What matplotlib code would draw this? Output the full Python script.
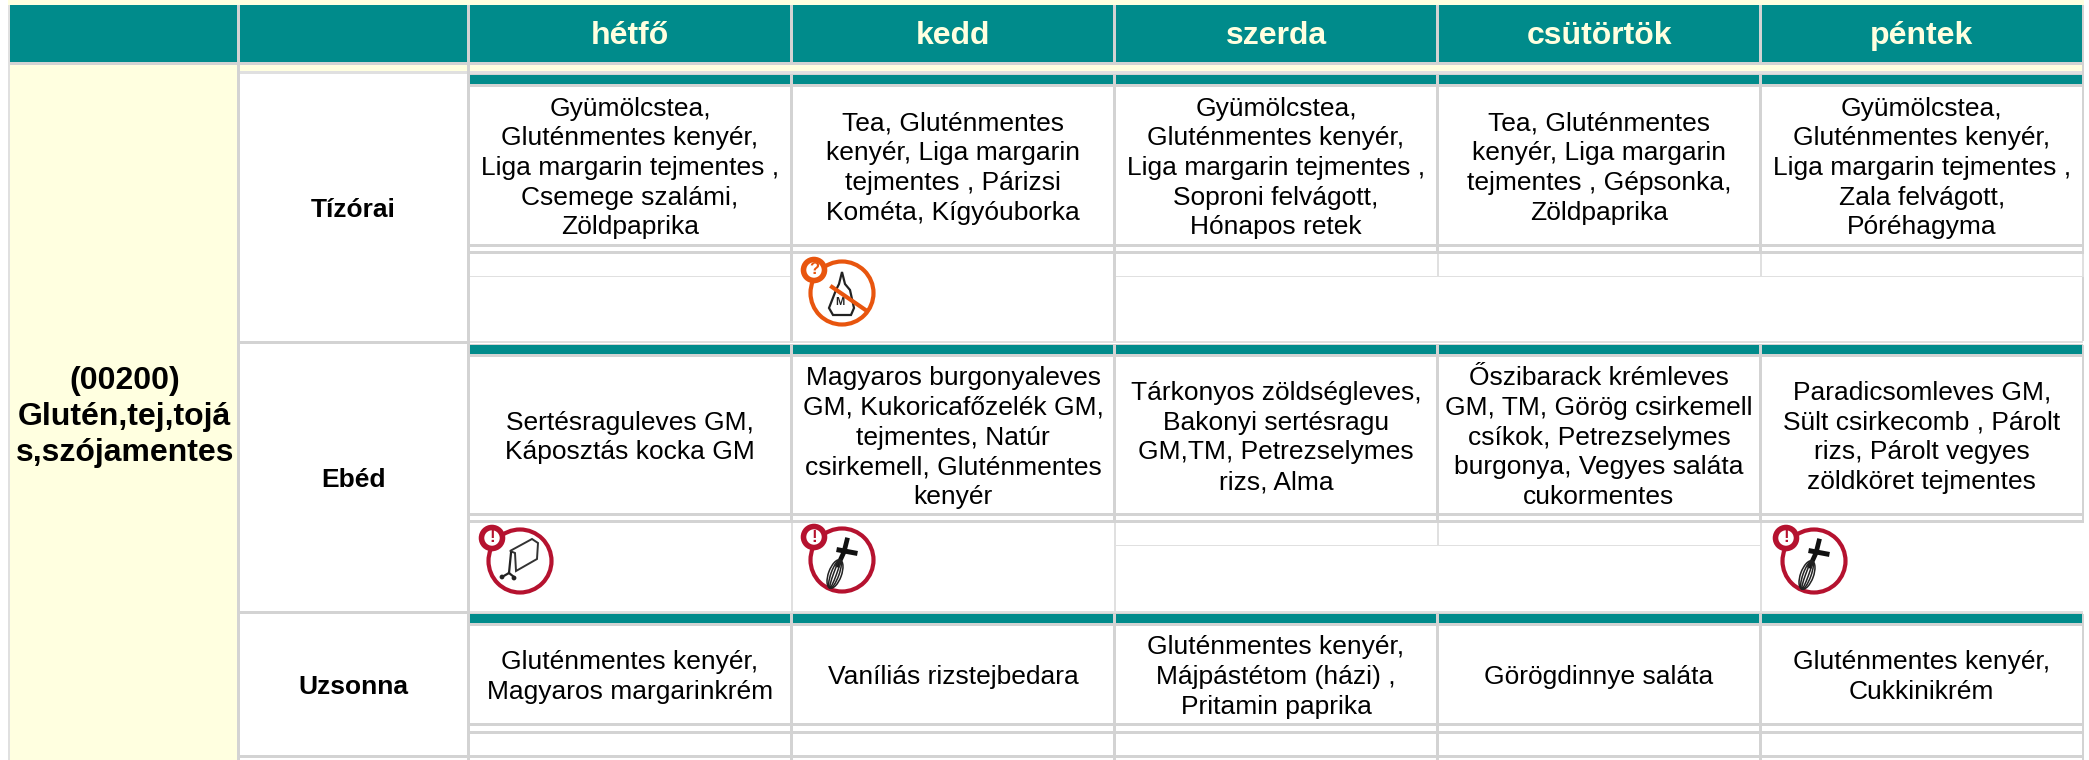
import matplotlib
matplotlib.use("Agg")
import matplotlib.pyplot as plt
from matplotlib.patches import Rectangle, Circle, Polygon, Ellipse

# ---- content ----
diet_label = "(00200)\nGlutén,tej,tojá\ns,szójamentes"
days = ["hétfő", "kedd", "szerda", "csütörtök", "péntek"]
meals = ["Tízórai", "Ebéd", "Uzsonna"]
tizorai = [
    "Gyümölcstea,\nGluténmentes kenyér,\nLiga margarin tejmentes ,\nCsemege szalámi,\nZöldpaprika",
    "Tea, Gluténmentes\nkenyér, Liga margarin\ntejmentes , Párizsi\nKométa, Kígyóuborka",
    "Gyümölcstea,\nGluténmentes kenyér,\nLiga margarin tejmentes ,\nSoproni felvágott,\nHónapos retek",
    "Tea, Gluténmentes\nkenyér, Liga margarin\ntejmentes , Gépsonka,\nZöldpaprika",
    "Gyümölcstea,\nGluténmentes kenyér,\nLiga margarin tejmentes ,\nZala felvágott,\nPóréhagyma",
]
ebed = [
    "Sertésraguleves GM,\nKáposztás kocka GM",
    "Magyaros burgonyaleves\nGM, Kukoricafőzelék GM,\ntejmentes, Natúr\ncsirkemell, Gluténmentes\nkenyér",
    "Tárkonyos zöldségleves,\nBakonyi sertésragu\nGM,TM, Petrezselymes\nrizs, Alma",
    "Őszibarack krémleves\nGM, TM, Görög csirkemell\ncsíkok, Petrezselymes\nburgonya, Vegyes saláta\ncukormentes",
    "Paradicsomleves GM,\nSült csirkecomb , Párolt\nrizs, Párolt vegyes\nzöldköret tejmentes",
]
uzsonna = [
    "Gluténmentes kenyér,\nMagyaros margarinkrém",
    "Vaníliás rizstejbedara",
    "Gluténmentes kenyér,\nMájpástétom (házi) ,\nPritamin paprika",
    "Görögdinnye saláta",
    "Gluténmentes kenyér,\nCukkinikrém",
]
menus = [tizorai, ebed, uzsonna]

# ---- layout (pixels) ----
W, H = 2089, 760
TEAL, CREAM, GRAY, LIGHT = "#008B8B", "#FFFFE0", "#D3D3D3", "#E0E0E0"
RED, ORANGE = "#B5122F", "#E8550E"
FONT = "Liberation Sans"
left, c1, c2, right = 9, 238.5, 468.5, 2083
cols = [468.5, 791.5, 1114.5, 1437.5, 1760.5, 2083]
rows = [
    dict(teal=(75, 84), cell=(87, 244), g1=(244, 247), g2=(251, 254), end=341),
    dict(teal=(345, 354), cell=(357, 513), g1=(513, 516), g2=(520, 523), end=611),
    dict(teal=(614, 623), cell=(626, 723), g1=(723, 726), g2=(731, 734), end=755),
]
label_centres = [210, 480, 687]

fig = plt.figure(figsize=(W / 100, H / 100), dpi=100, facecolor="white")
ax = fig.add_axes([0, 0, 1, 1])
ax.set_xlim(0, W)
ax.set_ylim(H, 0)
ax.axis("off")


def box(x0, x1, y0, y1, color, z=1):
    ax.add_patch(Rectangle((x0, y0), x1 - x0, y1 - y0, fc=color, ec="none", lw=0, zorder=z, antialiased=False))


def vline(x, y0, y1, color=GRAY, w=3, z=3):
    box(x - w / 2, x + w / 2, y0, y1, color, z)


# background strips
box(8, right + 1, 0, 5, CREAM)
box(10, right, 5, 62, TEAL)
box(10, right, 62, 65, GRAY)
box(10, c1, 65, H, CREAM)
box(c1, right, 65, 71, CREAM)
box(c1, right, 71, 74, LIGHT)
box(c1, right, 74, H, "white")
vline(9, 5, H, LIGHT, 2)
vline(2083, 5, 341, GRAY, 2)

for x in [c1, c2] + cols[1:-1]:
    vline(x, 5, 65, GRAY, 3)
vline(c1, 65, H)
vline(c2, 65, H)

for row_i, r in enumerate(rows):
    box(c2, right, r["teal"][0] - 1, r["teal"][0], GRAY)
    box(c2 + 1, right, r["teal"][0], r["teal"][1], TEAL)
    box(c2, right, r["teal"][1], r["cell"][0], GRAY)
    box(c2, right, r["g1"][0], r["g1"][1], GRAY)
    box(c2, right, r["g2"][0], r["g2"][1], GRAY)
    box(c1, c2, r["end"], r["end"] + 3, GRAY, 2)
    box(c2, right, r["end"], r["end"] + 3 if row_i == 2 else r["end"] + 2, LIGHT if row_i < 2 else GRAY, 2)

# column separators through teal and food cells
for x in cols[1:-1]:
    vline(x, 75, 254)
    vline(x, 345, 523)
    vline(x, 614, H)
vline(2083, 345, 523, GRAY, 2)
vline(2083, 614, H, GRAY, 2)

# icon rows: Tízórai
box(c2, cols[1], 275.5, 277, LIGHT, 2)
box(cols[2], right, 275.5, 277, LIGHT, 2)
vline(cols[1], 254, 341)
vline(cols[2], 254, 341)
vline(cols[3], 254, 277, LIGHT, 2)
vline(cols[4], 254, 277, LIGHT, 2)
vline(2083, 254, 277, LIGHT, 2)
# icon rows: Ebéd
box(cols[2], cols[4], 544.5, 546, LIGHT, 2)
vline(cols[1], 523, 611, LIGHT, 2)
vline(cols[2], 523, 611, LIGHT, 2)
vline(cols[3], 523, 546, LIGHT, 2)
vline(cols[4], 523, 611, LIGHT, 2)

# text
ax.text((left + c1) / 2 + 1, 417, diet_label, ha="center", va="center", family=FONT, weight="bold",
        fontsize=23, color="black", multialignment="center", zorder=6, linespacing=1.27)
for name, yc in zip(meals, label_centres):
    ax.text((c1 + c2) / 2, yc, name, ha="center", va="center", family=FONT, weight="bold",
            fontsize=19, color="black", zorder=6)
for i, d in enumerate(days):
    ax.text((cols[i] + cols[i + 1]) / 2, 36, d, ha="center", va="center", family=FONT, weight="bold",
            fontsize=23, color=CREAM, zorder=6)
for r, col_texts in zip(rows, menus):
    yc = sum(r["cell"]) / 2 + 2.5
    for i, t in enumerate(col_texts):
        ax.text((cols[i] + cols[i + 1]) / 2, yc, t, ha="center", va="center", family=FONT,
                fontsize=19, color="black", multialignment="center", zorder=6, linespacing=1.3)


# icons
def ring(cx, cy, color, glyph):
    ax.add_patch(Ellipse((cx, cy), 63, 63, fc="white", ec=color, lw=3, zorder=7))
    bx, by = cx - 28, cy - 23
    ax.add_patch(Circle((bx, by), 10.5, fc="white", ec=color, lw=4, zorder=8))
    ax.text(bx, by, glyph, ha="center", va="center", family=FONT, weight="bold", fontsize=12,
            color=color, zorder=9)


def cart(cx, cy):
    ring(cx, cy, RED, "!")
    pts = [(-10, -10), (12, -22), (18, -18), (17, -2), (-4, 10), (-5, -8)]
    ax.add_patch(Polygon([(cx + a, cy + b) for a, b in pts], closed=True, fc="white", ec="#333333", lw=1.4, zorder=8))
    ax.plot([cx - 9, cx - 11, cx - 18], [cy - 8, cy + 12, cy + 16], color="#222222", lw=1.6, zorder=8)
    ax.plot([cx - 11, cx - 6], [cy + 12, cy + 16], color="#222222", lw=1.6, zorder=8)
    for dx, dy in [(-18, 16), (-6, 17)]:
        ax.add_patch(Circle((cx + dx, cy + dy), 2.4, fc="#222222", ec="none", zorder=8))


def whisk(cx, cy):
    ring(cx, cy, RED, "!")
    ax.plot([cx + 5, cx + 2, cx - 4], [cy - 20, cy - 8, cy + 5], color="#111111", lw=3.4, zorder=8)
    ax.plot([cx - 3, cx + 13], [cy - 10, cy - 7], color="#111111", lw=3.6, zorder=8)
    for w in (13, 8, 3):
        ax.add_patch(Ellipse((cx - 7, cy + 14), 30, w, angle=-70, fc="none", ec="#222222", lw=1.1, zorder=8))


def bottle(cx, cy):
    ring(cx, cy, ORANGE, "?")
    pts = [(0, -21), (3, -9), (8, -3), (12, 15), (9, 22), (-9, 22), (-13, 15), (-6, -3), (-3, -9)]
    ax.add_patch(Polygon([(cx + a, cy + b) for a, b in pts], closed=True, fc="white", ec="#222222", lw=1.6, zorder=8))
    ax.text(cx - 2, cy + 9, "M", ha="center", va="center", family=FONT, weight="bold", fontsize=8,
            color="#222222", zorder=9)
    ax.plot([cx - 10, cx + 25], [cy - 6, cy + 18], color=ORANGE, lw=3, zorder=9)


bottle(842, 293)
cart(520, 561)
whisk(842, 560)
whisk(1814, 561)

fig.savefig("out.png", dpi=100, facecolor="white")
